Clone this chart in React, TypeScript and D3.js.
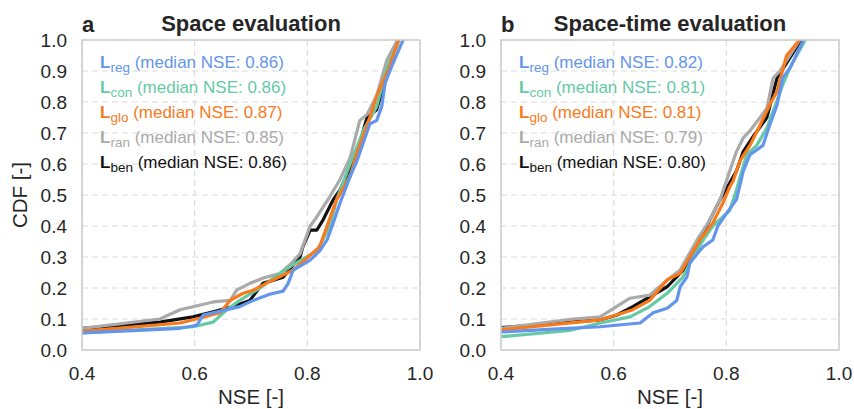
import React from "react";
import * as d3 from "d3";

// NSE / CDF pairs
const regA = [[0.35,0.05],[0.4,0.055],[0.5,0.063],[0.574,0.07],[0.604,0.08],[0.615,0.113],[0.64,0.123],[0.68,0.14],[0.704,0.16],[0.733,0.18],[0.757,0.19],[0.766,0.215],[0.775,0.258],[0.805,0.29],[0.822,0.32],[0.835,0.355],[0.846,0.41],[0.858,0.474],[0.876,0.56],[0.888,0.61],[0.899,0.667],[0.911,0.73],[0.923,0.74],[0.932,0.785],[0.938,0.86],[0.952,0.925],[0.97,1.0]];
const conA = [[0.35,0.05],[0.4,0.055],[0.597,0.075],[0.633,0.09],[0.657,0.13],[0.68,0.16],[0.716,0.2],[0.751,0.247],[0.775,0.275],[0.817,0.32],[0.84,0.4],[0.852,0.485],[0.876,0.6],[0.9,0.71],[0.923,0.785],[0.941,0.91],[0.963,1.0]];
const gloA = [[0.35,0.055],[0.4,0.06],[0.574,0.087],[0.61,0.103],[0.645,0.12],[0.663,0.16],[0.686,0.183],[0.704,0.193],[0.739,0.226],[0.775,0.258],[0.799,0.296],[0.822,0.333],[0.835,0.4],[0.852,0.485],[0.876,0.56],[0.888,0.635],[0.911,0.75],[0.923,0.82],[0.943,0.9],[0.962,1.0]];
const ranA = [[0.35,0.065],[0.4,0.07],[0.538,0.1],[0.574,0.13],[0.633,0.155],[0.663,0.16],[0.675,0.194],[0.698,0.215],[0.722,0.232],[0.751,0.247],[0.769,0.275],[0.787,0.31],[0.805,0.4],[0.817,0.43],[0.84,0.495],[0.858,0.55],[0.876,0.62],[0.893,0.74],[0.906,0.76],[0.923,0.82],[0.941,0.935],[0.96,1.0]];
const benA = [[0.35,0.065],[0.4,0.07],[0.538,0.09],[0.597,0.107],[0.633,0.123],[0.668,0.14],[0.698,0.16],[0.721,0.215],[0.757,0.235],[0.787,0.3],[0.792,0.333],[0.805,0.387],[0.817,0.387],[0.828,0.42],[0.846,0.485],[0.858,0.516],[0.888,0.635],[0.906,0.75],[0.923,0.775],[0.938,0.87],[0.96,1.0]];

const regB = [[0.35,0.055],[0.4,0.058],[0.5,0.068],[0.576,0.075],[0.647,0.087],[0.67,0.12],[0.695,0.135],[0.712,0.16],[0.718,0.204],[0.73,0.235],[0.735,0.28],[0.748,0.31],[0.759,0.333],[0.776,0.355],[0.785,0.4],[0.8,0.44],[0.818,0.485],[0.824,0.53],[0.83,0.577],[0.842,0.63],[0.865,0.66],[0.877,0.726],[0.89,0.79],[0.9,0.877],[0.913,0.91],[0.937,1.0]];
const conB = [[0.35,0.04],[0.4,0.043],[0.522,0.063],[0.576,0.087],[0.629,0.107],[0.664,0.14],[0.695,0.183],[0.723,0.235],[0.741,0.3],[0.759,0.355],[0.776,0.4],[0.806,0.45],[0.818,0.516],[0.824,0.555],[0.836,0.63],[0.854,0.66],[0.872,0.716],[0.883,0.77],[0.9,0.855],[0.913,0.91],[0.94,1.0]];
const gloB = [[0.35,0.06],[0.4,0.065],[0.576,0.097],[0.634,0.13],[0.664,0.16],[0.695,0.226],[0.718,0.247],[0.735,0.3],[0.753,0.355],[0.776,0.41],[0.794,0.474],[0.806,0.526],[0.812,0.545],[0.824,0.61],[0.842,0.66],[0.86,0.726],[0.877,0.79],[0.89,0.835],[0.907,0.95],[0.93,1.0]];
const ranB = [[0.35,0.068],[0.4,0.07],[0.528,0.1],[0.576,0.107],[0.629,0.167],[0.664,0.177],[0.695,0.226],[0.718,0.258],[0.748,0.355],[0.771,0.42],[0.789,0.485],[0.806,0.577],[0.818,0.64],[0.83,0.684],[0.842,0.707],[0.86,0.75],[0.872,0.78],[0.883,0.877],[0.895,0.9],[0.925,0.985],[0.93,1.0]];
const benB = [[0.35,0.068],[0.4,0.072],[0.576,0.097],[0.606,0.113],[0.634,0.14],[0.695,0.204],[0.73,0.27],[0.759,0.377],[0.789,0.485],[0.8,0.52],[0.818,0.577],[0.83,0.64],[0.848,0.69],[0.872,0.75],[0.89,0.877],[0.933,1.0]];

const subs = ["reg", "con", "glo", "ran", "ben"];
const colors = ["#6495ed", "#66c9a6", "#f97a1c", "#aaaaaa", "#111111"];
const mediansA = ["0.86", "0.86", "0.87", "0.85", "0.86"];
const mediansB = ["0.82", "0.81", "0.81", "0.79", "0.80"];
const xTicks = [0.4, 0.6, 0.8, 1.0];
const yTicks = [0, 0.1, 0.2, 0.3, 0.4, 0.5, 0.6, 0.7, 0.8, 0.9, 1.0];

const font = "'Liberation Sans', Arial, sans-serif";

const Panel = ({left, letter, title, series, medians, id, ylabel}) => {
    const x = d3.scaleLinear().domain([0.4, 1.0]).range([left, left + 338]);
    const y = d3.scaleLinear().domain([0, 1]).range([350, 40]);
    const line = d3.line().x(d => x(d[0])).y(d => y(d[1]));
    // draw order: black at the back, blue on top
    const order = [4, 3, 1, 2, 0];
    return <g>
        <defs>
            <clipPath id={id}>
                <rect x={left} y={40} width={338} height={310}/>
            </clipPath>
        </defs>
        {yTicks.map(t => <line key={"gy" + t} x1={left} x2={left + 338} y1={y(t)} y2={y(t)}
                               stroke="#dcdcdc" strokeWidth={1.2} strokeDasharray="6,4"/>)}
        {xTicks.map(t => <line key={"gx" + t} x1={x(t)} x2={x(t)} y1={40} y2={350}
                               stroke="#dcdcdc" strokeWidth={1.2} strokeDasharray="6,4"/>)}
        <g clipPath={`url(#${id})`}>
            {order.map(i => <path key={i} d={line(series[i])} fill="none" stroke={colors[i]}
                                  strokeWidth={3.2} strokeLinejoin="round"/>)}
        </g>
        <rect x={left} y={40} width={338} height={310} fill="none" stroke="#cccccc" strokeWidth={1.5}/>
        {yTicks.map(t => <text key={"ty" + t} x={left - 15} y={y(t) + 6.8} textAnchor="end"
                               fontSize={19} fill="#262626">{t.toFixed(1)}</text>)}
        {xTicks.map(t => <text key={"tx" + t} x={x(t)} y={380} textAnchor="middle"
                               fontSize={19} fill="#262626">{t.toFixed(1)}</text>)}
        <text x={left + 169} y={404} textAnchor="middle" fontSize={20.5} fill="#262626">NSE [-]</text>
        {ylabel && <text transform={`translate(${left - 55},195) rotate(-90)`} textAnchor="middle"
                         fontSize={20.5} fill="#262626">CDF [-]</text>}
        <text x={left} y={32} fontSize={22} fontWeight="bold" fill="#262626">{letter}</text>
        <text x={left + 169} y={31} textAnchor="middle" fontSize={22} fontWeight="bold"
              fill="#262626">{title}</text>
        {subs.map((s, i) => <text key={s} x={left + 18} y={68 + i * 25} fill={colors[i]} fontSize={17}>
            <tspan fontWeight="bold" fontSize={17}>L</tspan>
            <tspan fontSize={13.5} dy={4}>{s}</tspan>
            <tspan dy={-4}>{` (median NSE: ${medians[i]})`}</tspan>
        </text>)}
    </g>
}

export default function App() {
    return <svg width={854} height={409} style={{position: "absolute", left: 0, top: 0}}
                fontFamily={font}>
        <rect width={854} height={409} fill="white"/>
        <Panel left={82} letter="a" title="Space evaluation" series={[regA, conA, gloA, ranA, benA]}
               medians={mediansA} id="clipA" ylabel={true}/>
        <Panel left={501} letter="b" title="Space-time evaluation" series={[regB, conB, gloB, ranB, benB]}
               medians={mediansB} id="clipB" ylabel={false}/>
    </svg>
}
